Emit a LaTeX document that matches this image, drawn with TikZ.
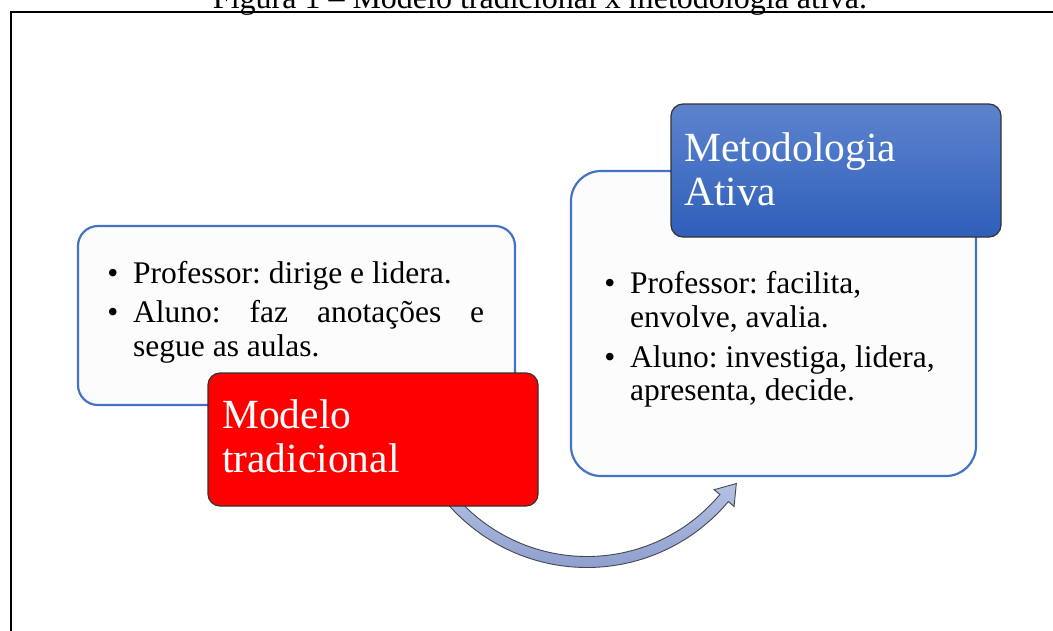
\documentclass[tikz,border=0pt]{standalone}
\usepackage{fontspec}
\setmainfont{Liberation Serif}
\usetikzlibrary{calc}
\definecolor{boxline}{RGB}{68,114,196}
\definecolor{boxfill}{RGB}{252,252,252}
\definecolor{redfill}{RGB}{255,0,0}
\definecolor{darkline}{RGB}{50,50,50}
\definecolor{blueTop}{RGB}{93,131,206}
\definecolor{blueBot}{RGB}{47,95,186}
\definecolor{arrowTop}{RGB}{180,193,228}
\definecolor{arrowBot}{RGB}{140,157,204}
\definecolor{arrowLine}{RGB}{70,70,80}
\begin{document}
\frenchspacing
\begin{tikzpicture}[x=1pt,y=-1pt,
  lightbox/.style={draw=boxline, fill=boxfill, line width=2.2pt, inner sep=0pt},
  headbox/.style={draw=darkline, line width=1.2pt, inner sep=0pt, rounded corners=12pt, minimum width=330pt, minimum height=133pt},
  bodytext/.style={anchor=base west, inner sep=0pt, font=\fontsize{31.5}{34}\selectfont\frenchspacing},
  bulletmark/.style={anchor=base, inner sep=0pt, font=\fontsize{31.5}{34}\selectfont},
  titletext/.style={anchor=base west, inner sep=0pt, text=white, font=\fontsize{41.5}{44}\selectfont},
  curvedarrow/.style={top color=arrowTop, bottom color=arrowBot, draw=arrowLine, line width=0.9pt, line join=miter},
]
\useasboundingbox (0,0) rectangle (1053,630);
% caption (cut at top) and frame
\node[anchor=base, inner sep=0pt, font=\fontsize{32}{36}\selectfont] (caption) at (540,8) {Figura 1 – Modelo tradicional x metodologia ativa.};
\draw[line width=2pt] (11,632) -- (11,12) -- (1055,12);

% light boxes
\node[lightbox, rounded corners=20pt, minimum width=437pt, minimum height=179pt] (leftbox) at (296.5,315.5) {};
\node[lightbox, rounded corners=30pt, minimum width=405pt, minimum height=305pt] (rightbox) at (773.5,323.5) {};

% curved arrow
\coordinate (C) at (587,383);
\draw[curvedarrow] ($(C)+(142:184.5)$) arc[start angle=142, end angle=40, radius=184.5]
  -- ($(C)+(40:192)$) -- ($(C)+(40:179)+(-50:19)$) -- ($(C)+(40:166)$)
  -- ($(C)+(40:173.5)$) arc[start angle=40, end angle=142, radius=173.5] -- cycle;

% header boxes
\node[headbox, fill=redfill] (redbox) at (373,439.5) {};
\node[headbox, top color=blueTop, bottom color=blueBot] (bluebox) at (836,170.5) {};

% titles
\node[titletext] (t1) at (222,428) {Modelo};
\node[titletext] (t2) at (222,472) {tradicional};
\node[titletext] (t3) at (684,161) {Metodologia};
\node[titletext] (t4) at (684,205) {Ativa};

% left text
\node[bulletmark] (lb1) at (113,283) {•};
\node[bodytext] (l1) at (133,283) {Professor: dirige e lidera.};
\node[bulletmark] (lb2) at (113,322) {•};
\node[bodytext] (l2) at (133,322) {\makebox[351pt][s]{Aluno: faz anotações e}};
\node[bodytext] (l3) at (133,356) {segue as aulas.};

% right text
\node[bulletmark] (rb1) at (610,293) {•};
\node[bodytext] (r1) at (630,293) {Professor: facilita,};
\node[bodytext] (r2) at (630,327) {envolve, avalia.};
\node[bulletmark] (rb2) at (610,367) {•};
\node[bodytext] (r3) at (630,367) {Aluno: investiga, lidera,};
\node[bodytext] (r4) at (630,400) {apresenta, decide.};
\end{tikzpicture}
\end{document}
